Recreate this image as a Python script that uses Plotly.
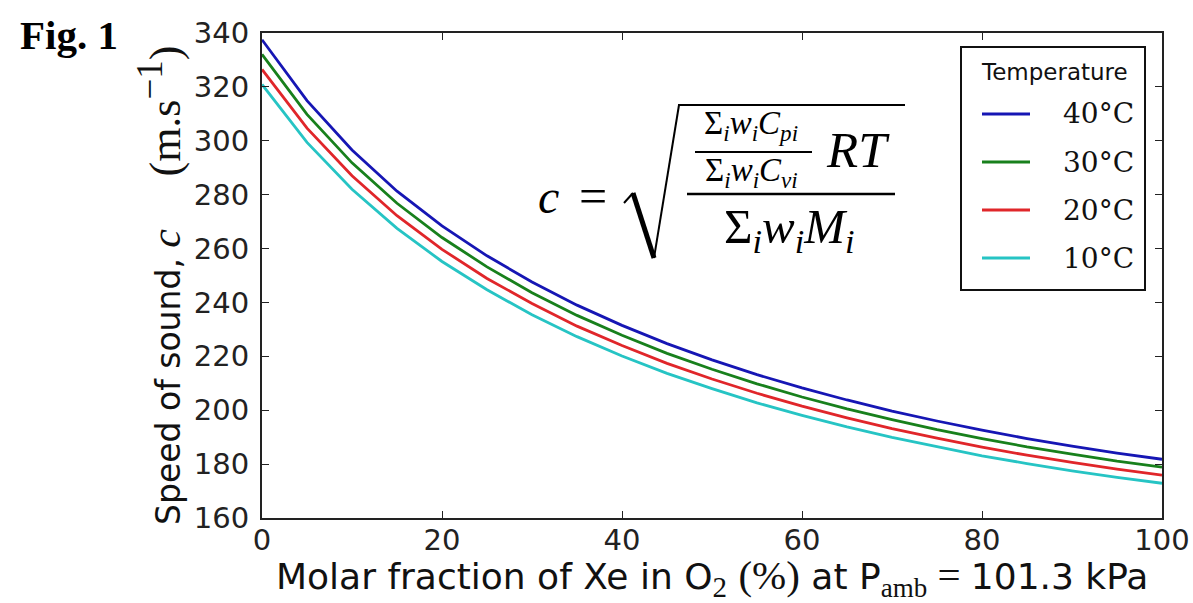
import plotly.graph_objects as go

# ---- data -------------------------------------------------------------
xe_fraction = [0, 5, 10, 15, 20, 25, 30, 35, 40, 45, 50,
               55, 60, 65, 70, 75, 80, 85, 90, 95, 100]

temperature_labels = ["40°C", "30°C", "20°C", "10°C"]

c_40 = [337.5, 314.9, 296.6, 281.3, 268.4, 257.3, 247.6, 239.0, 231.5, 224.7, 218.7,
        213.2, 208.3, 203.8, 199.7, 196.0, 192.6, 189.5, 186.7, 184.1, 181.8]
c_30 = [332.1, 309.8, 291.8, 276.8, 264.1, 253.2, 243.6, 235.2, 227.8, 221.1, 215.2,
        209.8, 204.9, 200.5, 196.5, 192.8, 189.5, 186.4, 183.7, 181.1, 178.9]
c_20 = [326.5, 304.7, 287.0, 272.2, 259.7, 248.9, 239.6, 231.2, 224.0, 217.4, 211.6,
        206.3, 201.5, 197.2, 193.2, 189.6, 186.3, 183.3, 180.6, 178.1, 175.9]
c_10 = [320.9, 299.4, 282.0, 267.5, 255.2, 244.7, 235.4, 227.3, 220.1, 213.7, 208.0,
        202.7, 198.1, 193.8, 189.9, 186.4, 183.1, 180.2, 177.5, 175.1, 172.9]

x_ticks = [0, 20, 40, 60, 80, 100]
y_ticks = [160, 180, 200, 220, 240, 260, 280, 300, 320, 340]

series = [c_40, c_30, c_20, c_10]
colors = ["#1616b4", "#18801c", "#e0262a", "#26c4c4"]

# ---- geometry helpers -------------------------------------------------
W, H = 1193, 603
L, R, T, B = 262, 1162, 33, 518


def px(x):
    return (x - L) / (R - L)


def py(y):
    return (B - y) / (B - T)


SANS = "DejaVu Sans"
SERIF = "Liberation Serif"
NB = "\u00a0"


def serif(s, size=None):
    style = f"font-family:{SERIF}"
    if size:
        style += f";font-size:{size}px"
    return f"<span style='{style}'>{s}</span>"


fig = go.Figure()

for vals, name, col in zip(series, temperature_labels, colors):
    fig.add_trace(go.Scatter(
        x=xe_fraction, y=vals, mode="lines", name=name,
        line=dict(color=col, width=2.8), showlegend=False,
    ))

axis_common = dict(
    showgrid=False, zeroline=False, showline=True, linecolor="#222",
    linewidth=2, mirror="ticks", ticks="inside", ticklen=7, tickwidth=1.4,
    tickcolor="#222", tickfont=dict(family=SANS, size=29, color="#222"),
    automargin=False,
)

fig.update_xaxes(range=[0, 100], tickvals=x_ticks, ticklabelstandoff=-5,
                 **axis_common)
fig.update_yaxes(range=[160, 340], tickvals=y_ticks, ticklabelstandoff=5,
                 **axis_common)

shapes = []
annotations = []

# axis titles
x_title = ("Molar fraction of Xe in O<sub>" + serif("2", 29) + "</sub> "
           + serif("(%)", 41) + " at P<sub>" + serif("amb", 27) + "</sub>"
           + serif(" = ", 41) + "101.3 kPa")
annotations.append(dict(
    x=px(711.5), y=py(577), xref="paper", yref="paper", xanchor="center",
    yanchor="middle", showarrow=False, text=x_title,
    font=dict(family=SANS, size=36, color="#111"),
))

y_title = ("Speed of sound, " + serif("<i>c</i>", 42) + NB * 5
           + serif("(m.s<sup><span style='font-size:37px'>−1</span></sup>)", 44))
annotations.append(dict(
    x=px(159), y=py(285), xref="paper", yref="paper", xanchor="center",
    yanchor="middle", showarrow=False, text=y_title, textangle=-90,
    font=dict(family=SANS, size=33, color="#111"),
))

# figure label
annotations.append(dict(
    x=px(18), y=py(35), xref="paper", yref="paper", xanchor="left",
    yanchor="middle", showarrow=False,
    text="<b>Fig. 1</b>", font=dict(family=SERIF, size=41, color="#000"),
))


# ---- formula: c = sqrt( (Σ w Cp / Σ w Cv) R T / Σ w M ) ----------------
def ftext(x, y, s, size):
    annotations.append(dict(
        x=px(x), y=py(y), xref="paper", yref="paper", xanchor="center",
        yanchor="middle", showarrow=False, text=s,
        font=dict(family=SERIF, size=size, color="#000"),
    ))


def fline(x0, y0, x1, y1, w):
    shapes.append(dict(
        type="line", xref="paper", yref="paper",
        x0=px(x0), y0=py(y0), x1=px(x1), y1=py(y1),
        line=dict(color="#000", width=w),
    ))


ftext(548, 196, "<i>c</i>", 48)
ftext(593, 196, "=", 50)

# radical sign
fline(624, 203, 633, 193, 2)
fline(633, 193, 654, 258, 5)
fline(654, 258, 679, 105, 2)
fline(678, 105, 905, 105, 2)

ftext(751, 126, "Σ<sub><i>i</i></sub><i>w</i><sub><i>i</i></sub><i>C</i><sub><i>pi</i></sub>", 33)
fline(695, 152, 812, 152, 2)
ftext(751, 172, "Σ<sub><i>i</i></sub><i>w</i><sub><i>i</i></sub><i>C</i><sub><i>vi</i></sub>", 33)
ftext(858, 150, "<i>RT</i>", 51)
fline(687, 194, 895, 194, 2.5)
ftext(789, 229, "Σ<sub><i>i</i></sub><i>w</i><sub><i>i</i></sub><i>M</i><sub><i>i</i></sub>", 49)

# ---- legend box -------------------------------------------------------
shapes.append(dict(
    type="rect", xref="paper", yref="paper",
    x0=px(961), y0=py(47), x1=px(1145), y1=py(290),
    line=dict(color="#111", width=2), fillcolor="white", layer="above",
))
annotations.append(dict(
    x=px(1054), y=py(72), xref="paper", yref="paper", xanchor="center",
    yanchor="middle", showarrow=False, text="Temperature",
    font=dict(family=SANS, size=23, color="#111"),
))
for i, (name, col) in enumerate(zip(temperature_labels, colors)):
    yy = 114 + 48 * i
    shapes.append(dict(
        type="line", xref="paper", yref="paper", layer="above",
        x0=px(982), y0=py(yy), x1=px(1030), y1=py(yy),
        line=dict(color=col, width=2.8),
    ))
    annotations.append(dict(
        x=px(1136), y=py(yy), xref="paper", yref="paper", xanchor="right",
        yanchor="middle", showarrow=False, text=name,
        font=dict(family="DejaVu Serif", size=28, color="#111"),
    ))

fig.update_layout(
    width=W, height=H,
    margin=dict(l=L, r=W - R, t=T, b=H - B, pad=0),
    paper_bgcolor="white", plot_bgcolor="white",
    shapes=shapes, annotations=annotations,
    showlegend=False,
)

fig.write_html("out.html")
